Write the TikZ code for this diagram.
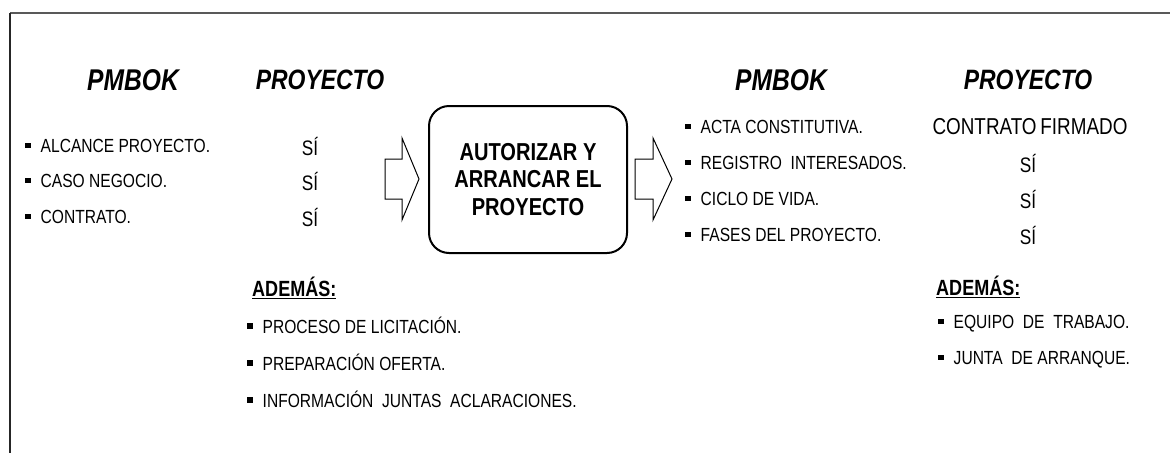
\documentclass[tikz,border=0pt]{standalone}
\usepackage{fontspec}
\setmainfont{Liberation Sans}[FakeStretch=0.82]
\newcommand{\bul}{\raisebox{4.5pt}{\rule{5.5pt}{5.5pt}}\hspace{10pt}}
\tikzset{
  title/.style={font=\fontsize{28}{30}\selectfont\bfseries\itshape, inner sep=0pt},
  item/.style={font=\fontsize{19}{21}\selectfont, anchor=west, inner sep=0pt},
  yes/.style={font=\fontsize{21}{23}\selectfont, inner sep=0pt},
  extra/.style={font=\fontsize{22}{24}\selectfont\bfseries, anchor=west, inner sep=0pt},
  blockarrow/.style={draw=black, line width=1pt, fill=white, line join=miter},
  mainbox/.style={draw=black, line width=2pt, rounded corners=20pt, minimum width=198pt, minimum height=147pt, align=center, font=\fontsize{24.5}{27.5}\selectfont\bfseries},
  frame/.style={line width=2pt}
}
\begin{document}
\begin{tikzpicture}[x=1pt,y=-1pt]
\useasboundingbox (0,0) rectangle (1170,453);
% frame
\coordinate (ftl) at (10,13);
\coordinate (ftr) at (1170,13);
\coordinate (fbl) at (10,453);
\draw[frame, draw=black!65] (ftl) -- (ftr);
\draw[frame, draw=black!85] (ftl) -- (fbl);

% titles
\node[title, font=\fontsize{30}{32}\selectfont\bfseries\itshape] (t1) at (133,80) {PMBOK};
\node[title] (t2) at (320,80) {PROYECTO};
\node[title, font=\fontsize{30}{32}\selectfont\bfseries\itshape] (t3) at (781,80) {PMBOK};
\node[title] (t4) at (1028,80) {PROYECTO};

% left PMBOK list
\node[item] (l1) at (25,146) {\bul ALCANCE PROYECTO.};
\node[item] (l2) at (25,181) {\bul CASO NEGOCIO.};
\node[item] (l3) at (25,217) {\bul CONTRATO.};

% left PROYECTO column
\node[yes] (s1) at (310,146) {SÍ};
\node[yes] (s2) at (310,181) {SÍ};
\node[yes] (s3) at (310,217) {SÍ};

% block arrows
\draw[blockarrow] (385,159) -- (402,159) -- (402,138) -- (419,179) -- (402,220) -- (402,199) -- (385,199) -- cycle;
\node[mainbox] (box) at (528,179.5) {AUTORIZAR Y\\ARRANCAR EL\\PROYECTO};
\draw[blockarrow] (635,159) -- (653,159) -- (653,138) -- (672,179) -- (653,220) -- (653,199) -- (635,199) -- cycle;

% right PMBOK list
\node[item] (r1) at (685,127) {\bul ACTA CONSTITUTIVA.};
\node[item] (r2) at (685,163) {\bul REGISTRO\ \ INTERESADOS.};
\node[item] (r3) at (685,199) {\bul CICLO DE VIDA.};
\node[item] (r4) at (685,235) {\bul FASES DEL PROYECTO.};

% right PROYECTO column
\node[yes, font=\fontsize{23}{25}\selectfont] (c1) at (1030,127) {CONTRATO\,FIRMADO};
\node[yes] (c2) at (1028,163) {SÍ};
\node[yes] (c3) at (1028,199) {SÍ};
\node[yes] (c4) at (1028,235) {SÍ};

% left ADEMÁS
\node[extra] (a1) at (252,288) {\underline{ADEMÁS:}};
\node[item] (a2) at (247,325) {\bul PROCESO DE LICITACIÓN.};
\node[item] (a3) at (247,362) {\bul PREPARACIÓN OFERTA.};
\node[item] (a4) at (247,399) {\bul INFORMACIÓN\ \ JUNTAS\ \ ACLARACIONES.};

% right ADEMÁS
\node[extra] (b1) at (936,287) {\underline{ADEMÁS:}};
\node[item] (b2) at (938,324) {\bul EQUIPO\ \ DE\ \ TRABAJO.};
\node[item] (b3) at (938,360) {\bul JUNTA\ \ DE ARRANQUE.};
\end{tikzpicture}
\end{document}
